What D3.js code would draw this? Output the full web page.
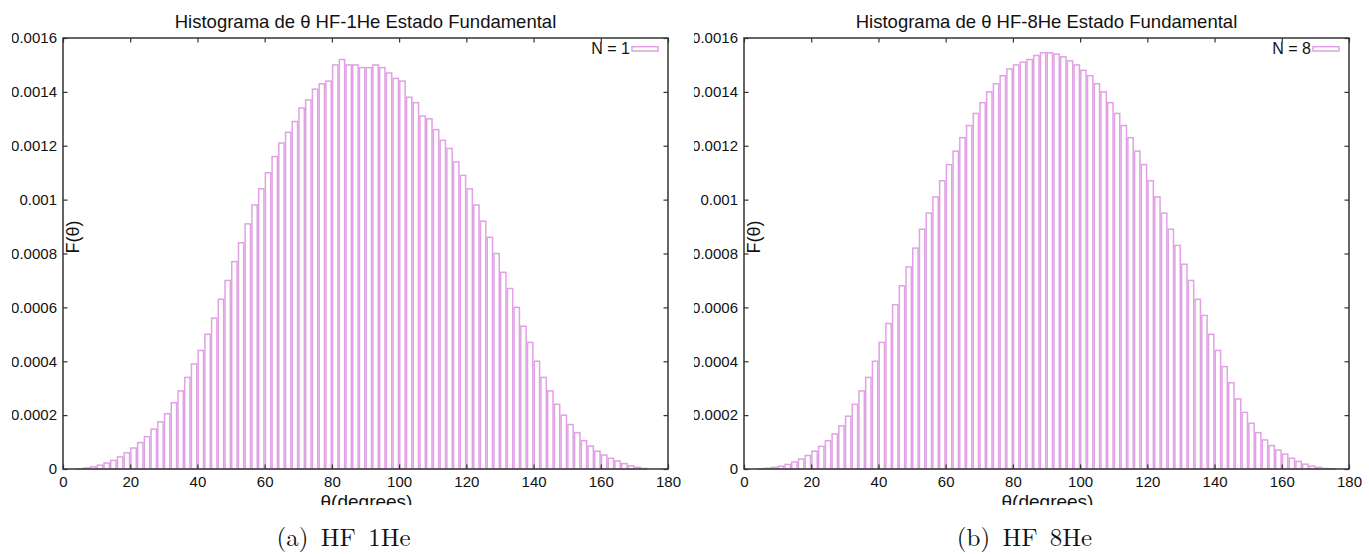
<!DOCTYPE html>
<html>
<head>
<meta charset="utf-8">
<script src="https://cdn.jsdelivr.net/npm/d3@7/dist/d3.min.js"></script>
<style>
  body { margin: 0; background: #fff; }
  svg { display: block; }
</style>
</head>
<body>
<svg id="chart" width="1369" height="554"></svg>
<script>
// histogram bins are 2 degrees wide, 0..180
const binWidth = 2
const binStarts = d3.range(0, 180, binWidth)

// F(theta), HF-1He ground state
const histN1 = [
  0, 0, 0.000001, 0.000004, 0.000008, 0.000014, 0.000022, 0.000032, 0.000045, 0.00006,
  0.000078, 0.000098, 0.00012, 0.000148, 0.000175, 0.000205, 0.000246, 0.00029, 0.00034, 0.00039,
  0.00044, 0.0005, 0.00056, 0.00063, 0.0007, 0.00077, 0.00084, 0.00091, 0.00098, 0.00104,
  0.0011, 0.00116, 0.00121, 0.00125, 0.00129, 0.00134, 0.00137, 0.00141, 0.00143, 0.00144,
  0.0015, 0.00152, 0.0015, 0.0015, 0.00149, 0.00149, 0.0015, 0.00149, 0.00147, 0.00145,
  0.00144, 0.00138, 0.00136, 0.00131, 0.0013, 0.00126, 0.00122, 0.00119, 0.00114, 0.00109,
  0.00104, 0.00098, 0.00092, 0.00086, 0.0008, 0.00073, 0.00067, 0.0006, 0.00053, 0.00047,
  0.0004, 0.00034, 0.00029, 0.00024, 0.0002, 0.000165, 0.000135, 0.000105, 0.000085, 0.000066,
  0.000052, 0.00004, 0.00003, 0.00002, 0.000012, 0.000006, 0.000002, 0, 0, 0
]

// F(theta), HF-8He ground state
const histN8 = [
  0, 0, 0.000001, 0.000003, 0.000006, 0.00001, 0.000017, 0.000026, 0.000037, 0.00005,
  0.000066, 0.000084, 0.000105, 0.00013, 0.00016, 0.000196, 0.00024, 0.00029, 0.00034, 0.0004,
  0.00047, 0.00054, 0.00061, 0.00068, 0.00075, 0.00082, 0.00089, 0.00095, 0.00101, 0.00107,
  0.00113, 0.00118, 0.00123, 0.001275, 0.00132, 0.00136, 0.0014, 0.00143, 0.00146, 0.001485,
  0.0015, 0.00151, 0.00152, 0.001535, 0.001545, 0.001545, 0.00154, 0.00153, 0.001515, 0.0015,
  0.00148, 0.00146, 0.00143, 0.0014, 0.00136, 0.00132, 0.001275, 0.00123, 0.00118, 0.00113,
  0.00107, 0.00101, 0.00095, 0.00089, 0.00083, 0.00076, 0.0007, 0.00063, 0.00057, 0.0005,
  0.00044, 0.00038, 0.00032, 0.00026, 0.00021, 0.00017, 0.000135, 0.000108, 0.000087, 0.00007,
  0.000055, 0.00004, 0.000028, 0.000018, 0.000011, 0.000006, 0.000002, 0.000001, 0, 0
]

const xTicks = [0, 20, 40, 60, 80, 100, 120, 140, 160, 180]
const yTicks = [0, 0.0002, 0.0004, 0.0006, 0.0008, 0.001, 0.0012, 0.0014, 0.0016]
const yTickLabels = ["0", "0.0002", "0.0004", "0.0006", "0.0008", "0.001", "0.0012", "0.0014", "0.0016"]
const titles = ["Histograma de θ HF-1He Estado Fundamental", "Histograma de θ HF-8He Estado Fundamental"]
const legendLabels = ["N = 1", "N = 8"]
const captions = ["(a) HF 1He", "(b) HF 8He"]

const svg = d3.select("#chart")
const barColor = "#e0a2e4"
const axisColor = "#333"
const sansFont = "'Liberation Sans', Arial, Helvetica, sans-serif"

const panels = [
  { data: histN1, left: 63, right: 668, clipX: 12, clipW: 670, capX: 343.5 },
  { data: histN8, left: 744, right: 1349, clipX: 694, clipW: 675, capX: 1024.5 }
]

panels.forEach((p, i) => {
  const x = d3.scaleLinear().domain([0, 180]).range([p.left, p.right])
  const y = d3.scaleLinear().domain([0, 0.0016]).range([469, 38])

  // each subfigure was cropped, so text at its edges is cut
  svg.append("clipPath").attr("id", "clip" + i)
    .append("rect")
    .attr("x", p.clipX).attr("y", 0)
    .attr("width", p.clipW).attr("height", 505)

  const g = svg.append("g").attr("clip-path", "url(#clip" + i + ")")

  // bars (empty boxes)
  g.append("g")
    .selectAll("rect")
    .data(binStarts.map((b, j) => ({ start: b, value: p.data[j] })).filter(d => d.value > 0))
    .enter().append("rect")
    .attr("x", d => x(d.start) + 0.7)
    .attr("y", d => y(d.value))
    .attr("width", d => x(d.start + binWidth) - x(d.start) - 1.4)
    .attr("height", d => y(0) - y(d.value))
    .attr("fill", "none")
    .attr("stroke", barColor)
    .attr("stroke-width", 1.5)

  // frame
  g.append("rect")
    .attr("x", p.left).attr("y", 38)
    .attr("width", p.right - p.left).attr("height", 469 - 38)
    .attr("fill", "none")
    .attr("stroke", axisColor)
    .attr("stroke-width", 1.5)

  // axes, ticks pointing inwards on all four sides
  const xAxis = g.append("g")
    .attr("transform", "translate(0,469)")
    .call(d3.axisBottom(x).tickValues(xTicks).tickSize(-4.5).tickPadding(7))
  const xTop = g.append("g")
    .attr("transform", "translate(0,38)")
    .call(d3.axisTop(x).tickValues(xTicks).tickSize(-4.5).tickFormat(""))
  const yAxis = g.append("g")
    .attr("transform", "translate(" + p.left + ",0)")
    .call(d3.axisLeft(y).tickValues(yTicks).tickSize(-4.5).tickPadding(6)
      .tickFormat((d, k) => yTickLabels[k]))
  const yRight = g.append("g")
    .attr("transform", "translate(" + p.right + ",0)")
    .call(d3.axisRight(y).tickValues(yTicks).tickSize(-4.5).tickFormat(""))

  ;[xAxis, xTop, yAxis, yRight].forEach(a => {
    a.select(".domain").remove()
    a.selectAll(".tick line").attr("stroke", axisColor).attr("stroke-width", 1.2)
    a.selectAll("text")
      .attr("fill", "#111")
      .style("font-family", sansFont)
      .style("font-size", "15px")
  })

  // title
  g.append("text")
    .attr("x", (p.left + p.right) / 2)
    .attr("y", 28)
    .attr("text-anchor", "middle")
    .style("font-family", sansFont)
    .style("font-size", "18.5px")
    .attr("fill", "#111")
    .text(titles[i])

  // x label
  g.append("text")
    .attr("x", (p.left + p.right) / 2 + 1)
    .attr("y", 508)
    .attr("text-anchor", "middle")
    .style("font-family", sansFont)
    .style("font-size", "19px")
    .attr("fill", "#111")
    .text("θ(degrees)")

  // y label
  g.append("text")
    .attr("transform", "translate(" + (p.left + 16) + ",237) rotate(-90)")
    .attr("text-anchor", "middle")
    .style("font-family", sansFont)
    .style("font-size", "18px")
    .attr("fill", "#111")
    .text("F(θ)")

  // legend
  g.append("text")
    .attr("x", p.right - 38)
    .attr("y", 54)
    .attr("text-anchor", "end")
    .style("font-family", sansFont)
    .style("font-size", "16px")
    .attr("fill", "#111")
    .text(legendLabels[i])
  g.append("rect")
    .attr("x", p.right - 36).attr("y", 46.7)
    .attr("width", 26).attr("height", 4.3)
    .attr("fill", "none")
    .attr("stroke", barColor)
    .attr("stroke-width", 1.5)

  // caption under each subfigure
  svg.append("text")
    .attr("x", p.capX)
    .attr("y", 546)
    .attr("text-anchor", "middle")
    .style("font-family", "'Latin Modern Roman', 'CMU Serif', 'Liberation Serif', 'Times New Roman', serif")
    .style("font-size", "25px")
    .style("word-spacing", "4px")
    .attr("fill", "#111")
    .text(captions[i])
})
</script>
</body>
</html>
